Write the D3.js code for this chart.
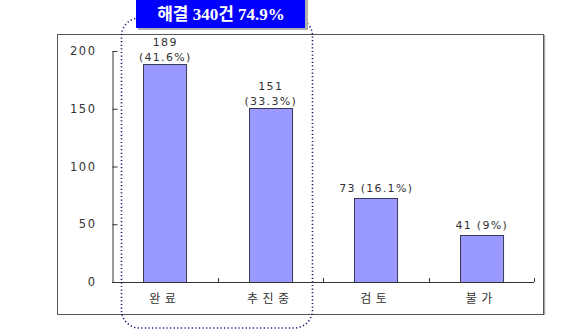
<!DOCTYPE html>
<html>
<head>
<meta charset="utf-8">
<script src="https://cdn.jsdelivr.net/npm/d3@7"></script>
<style>
  body { margin: 0; background: #fff; }
</style>
</head>
<body>
<svg id="chart" width="580" height="330"></svg>
<script>
// data
let categories = ["완료", "추진중", "검토", "불가"];
let counts = [189, 151, 73, 41];
let percents = ["41.6%", "33.3%", "16.1%", "9%"];
let yTicks = [0, 50, 100, 150, 200];
let titleText = "해결 340건 74.9%";

const svg = d3.select("#chart");
const numFont = "DejaVu Sans, Noto Sans CJK KR";
const korFont = "Noto Sans CJK KR, DejaVu Sans";

// outer frame (with a little shadow on the right)
svg.append("line")
    .attr("x1", 544.5).attr("x2", 544.5).attr("y1", 35).attr("y2", 315)
    .attr("stroke", "#aaa").attr("stroke-width", 1.5);
svg.append("rect")
    .attr("x", 57.5).attr("y", 34.5).attr("width", 486).attr("height", 280)
    .attr("fill", "none").attr("stroke", "#555").attr("stroke-width", 1);

// scales
let x = d3.scaleBand().domain(categories).range([112, 534])
    .paddingInner(0.592).paddingOuter(0.296);
let y = d3.scaleLinear().domain([0, 200]).range([282, 51]);

// y axis
let yAxis = svg.append("g")
    .attr("transform", "translate(112.5,0)")
    .call(d3.axisLeft(y).tickValues(yTicks).tickSizeInner(-5).tickSizeOuter(0).tickPadding(16));
yAxis.select(".domain").attr("stroke", "#333");
yAxis.selectAll(".tick line").attr("stroke", "#333");
yAxis.selectAll(".tick text")
    .attr("fill", "#333")
    .style("font-family", numFont)
    .style("font-size", "11.5px")
    .style("letter-spacing", "1.5px");

// bars
svg.selectAll("rect.bar").data(counts).enter()
    .append("rect")
    .attr("class", "bar")
    .attr("x", (d, i) => Math.round(x(categories[i])) + 0.5)
    .attr("y", d => Math.round(y(d)) + 0.5)
    .attr("width", x.bandwidth())
    .attr("height", d => y(0) - Math.round(y(d)))
    .attr("fill", "#9999ff")
    .attr("stroke", "#3a3a55")
    .attr("stroke-width", 1);

// x axis line and boundary ticks
let x0 = x.range()[0], step = x.step();
svg.append("line")
    .attr("x1", x0).attr("x2", x.range()[1]).attr("y1", y(0) + 0.5).attr("y2", y(0) + 0.5)
    .attr("stroke", "#333");
svg.selectAll("line.xtick").data(d3.range(1, categories.length + 1)).enter()
    .append("line")
    .attr("class", "xtick")
    .attr("x1", i => Math.round(x0 + i * step) + 0.5)
    .attr("x2", i => Math.round(x0 + i * step) + 0.5)
    .attr("y1", y(0)).attr("y2", y(0) - 4)
    .attr("stroke", "#333");

// category labels
svg.selectAll("text.cat").data(categories).enter()
    .append("text")
    .attr("class", "cat")
    .attr("x", d => x(d) + x.bandwidth() / 2)
    .attr("y", 303)
    .attr("text-anchor", "middle")
    .attr("fill", "#333")
    .style("font-family", korFont)
    .style("font-size", "12px")
    .style("letter-spacing", "4.5px")
    .text(d => d);

// value labels
counts.forEach((d, i) => {
  let cx = x(categories[i]) + x.bandwidth() / 2 + 0.5;
  let t = svg.append("text")
      .attr("text-anchor", "middle")
      .attr("fill", "#333")
      .style("font-family", numFont)
      .style("font-size", "11px")
      .style("letter-spacing", "1.3px");
  if (i < 2) {
    t.append("tspan").attr("x", cx).attr("y", y(d) - 18).text(d);
    t.append("tspan").attr("x", cx).attr("y", y(d) - 3).text("(" + percents[i] + ")");
  } else {
    t.attr("x", cx).attr("y", y(d) - 6).text(d + " (" + percents[i] + ")");
  }
});

// dotted rounded group outline
svg.append("rect")
    .attr("x", 121.5).attr("y", 18).attr("width", 191).attr("height", 310)
    .attr("rx", 18).attr("ry", 18)
    .attr("fill", "none")
    .attr("stroke", "#1a1a70")
    .attr("stroke-width", 1.6)
    .attr("stroke-dasharray", "1.2,2.4");

// title box
svg.append("rect")
    .attr("x", 138).attr("y", 0).attr("width", 170).attr("height", 30)
    .attr("fill", "#b0b0b0");
svg.append("rect")
    .attr("x", 136).attr("y", 0).attr("width", 169).attr("height", 28)
    .attr("fill", "#0000ff");
svg.append("text")
    .attr("x", 221).attr("y", 20)
    .attr("text-anchor", "middle")
    .attr("fill", "#fff")
    .style("font-family", "Liberation Serif, Noto Sans CJK KR")
    .style("font-size", "17px")
    .style("font-weight", "bold")
    .text(titleText);
</script>
</body>
</html>
